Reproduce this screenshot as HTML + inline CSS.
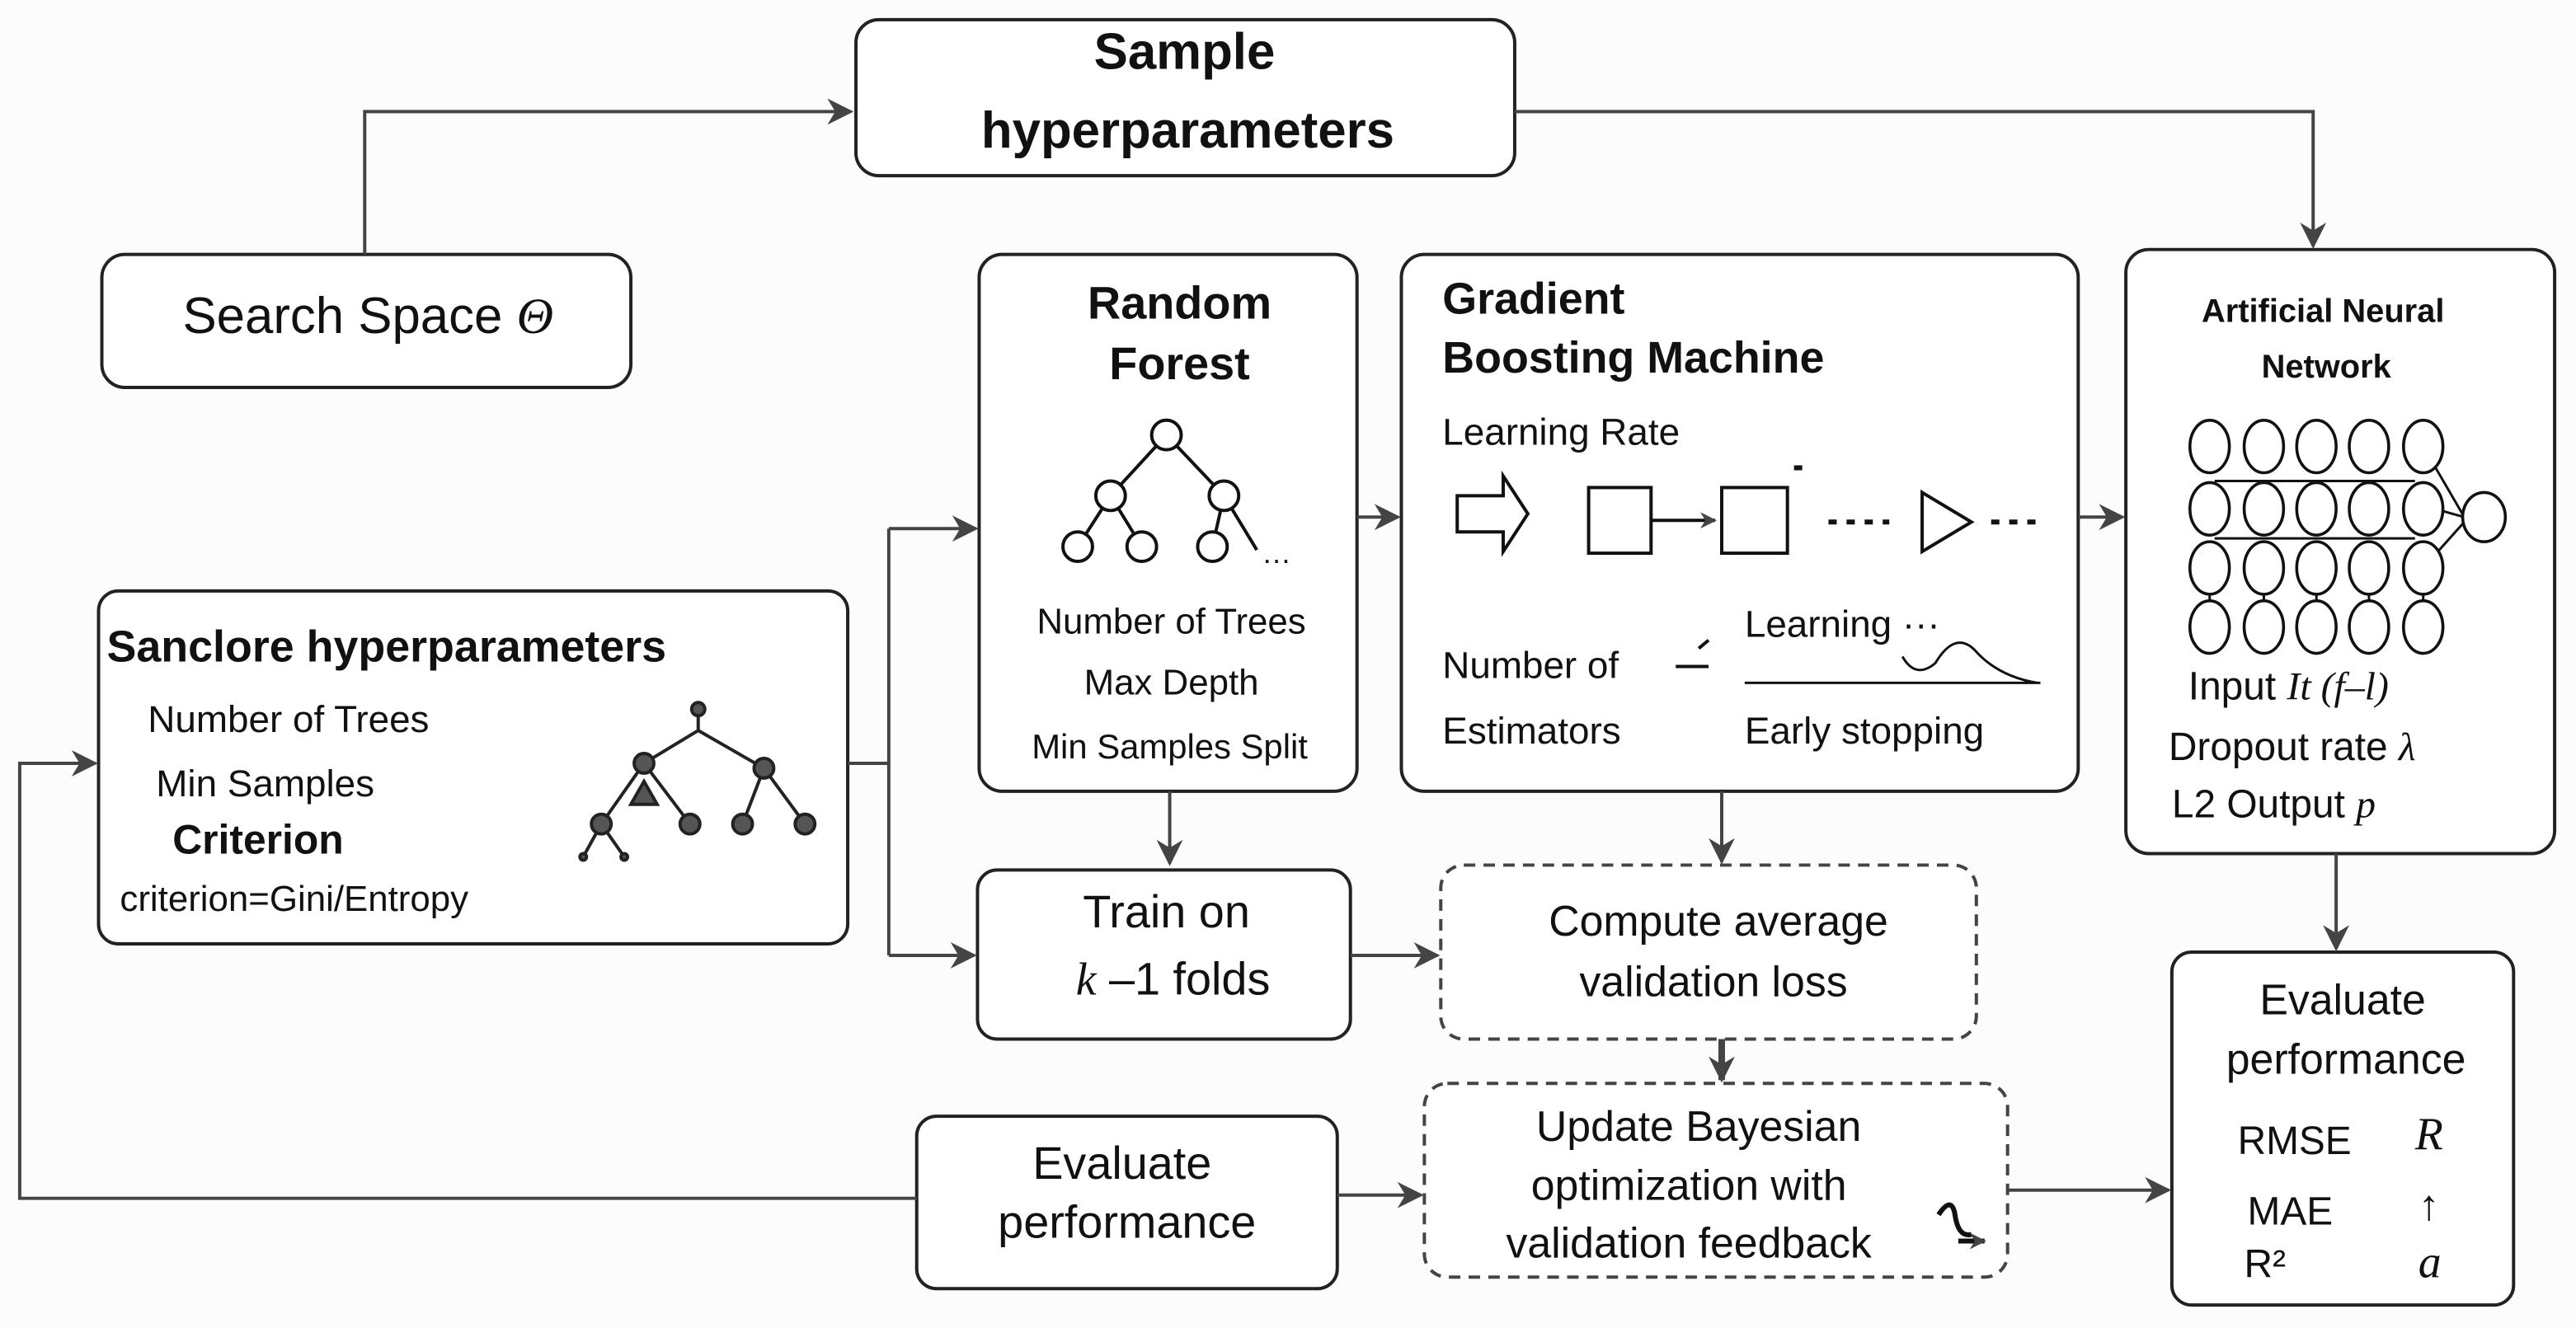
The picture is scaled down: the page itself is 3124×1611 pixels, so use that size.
<!DOCTYPE html>
<html><head><meta charset="utf-8"><style>
html,body{margin:0;padding:0;background:#fcfcfc;}
svg{display:block;}
text{font-family:"Liberation Sans",sans-serif;fill:#111;}
.b{font-weight:bold;}
.i{font-family:"Liberation Serif",serif;font-style:italic;}
</style></head><body>
<svg width="3124" height="1611" viewBox="0 0 1568 809" preserveAspectRatio="none" xmlns="http://www.w3.org/2000/svg">
<defs>
<marker id="a" viewBox="0 0 10 10" refX="9" refY="5" markerWidth="10" markerHeight="10" orient="auto" markerUnits="userSpaceOnUse"><path d="M0,0 L10,5 L0,10 L3,5 z" fill="#444"/></marker>
<marker id="A" viewBox="0 0 10 10" refX="9" refY="5" markerWidth="16" markerHeight="16" orient="auto" markerUnits="userSpaceOnUse"><path d="M0,0 L10,5 L0,10 L3,5 z" fill="#444"/></marker>
</defs>
<rect width="1568" height="809" fill="#fcfcfc"/>
<g fill="#fff" stroke="#222" stroke-width="2">
<rect x="521" y="12" width="401" height="95" rx="14"/>
<rect x="62" y="155" width="322" height="81" rx="14"/>
<rect x="596" y="155" width="230" height="327" rx="14"/>
<rect x="853" y="155" width="412" height="327" rx="14"/>
<rect x="1294" y="152" width="261" height="368" rx="14"/>
<rect x="60" y="360" width="456" height="215" rx="12"/>
<rect x="595" y="530" width="227" height="103" rx="12"/>
<rect x="558" y="680" width="256" height="105" rx="12"/>
<rect x="1322" y="580" width="208" height="215" rx="12"/>
<rect x="877" y="527" width="326" height="106" rx="14" stroke-dasharray="7,5" stroke="#444"/>
<rect x="867" y="660" width="355" height="118" rx="14" stroke-dasharray="7,5" stroke="#444"/>
</g>
<g fill="none" stroke="#444" stroke-width="2">
<path d="M222,155 V68 H518" marker-end="url(#A)"/>
<path d="M922,68 H1408 V150" marker-end="url(#A)"/>
<path d="M516,465 H541 M541,322 V582"/>
<path d="M541,322 H594" marker-end="url(#A)"/>
<path d="M541,582 H593" marker-end="url(#A)"/>
<path d="M826,315 H851" marker-end="url(#A)"/>
<path d="M1265,315 H1292" marker-end="url(#A)"/>
<path d="M712,482 V526" marker-end="url(#A)"/>
<path d="M1048,482 V525" marker-end="url(#A)"/>
<path d="M822,582 H875" marker-end="url(#A)"/>
<path d="M1048,633 V658" stroke-width="4" marker-end="url(#A)"/>
<path d="M1222,725 H1320" marker-end="url(#A)"/>
<path d="M814,728 H865" marker-end="url(#A)"/>
<path d="M558,730 H12 V465 H58" marker-end="url(#A)"/>
<path d="M1422,520 V578" marker-end="url(#A)"/>
</g>
<text x="721" y="42" font-size="31" class="b" text-anchor="middle">Sample</text>
<text x="723" y="90" font-size="31" class="b" text-anchor="middle">hyperparameters</text>
<text x="224" y="203" font-size="31" text-anchor="middle">Search Space <tspan class="i">Θ</tspan></text>
<text x="718" y="194" font-size="28" class="b" text-anchor="middle">Random</text>
<text x="718" y="231" font-size="28" class="b" text-anchor="middle">Forest</text>
<g fill="#fff" stroke="#111" stroke-width="2">
<path d="M710,265 L676,302 M710,265 L745,302 M676,302 L656,333 M676,302 L695,333 M745,302 L738,333 M745,302 L765,335"/>
<circle cx="710" cy="265" r="9"/><circle cx="676" cy="302" r="9"/><circle cx="745" cy="302" r="9"/>
<circle cx="656" cy="333" r="9"/><circle cx="695" cy="333" r="9"/><circle cx="738" cy="333" r="9"/>
</g>
<text x="768" y="343" font-size="18">…</text>
<text x="713" y="386" font-size="22" text-anchor="middle">Number of Trees</text>
<text x="713" y="423" font-size="22" text-anchor="middle">Max Depth</text>
<text x="712" y="462" font-size="21" text-anchor="middle">Min Samples Split</text>
<text x="878" y="191" font-size="27" class="b">Gradient</text>
<text x="878" y="227" font-size="27" class="b">Boosting Machine</text>
<text x="878" y="271" font-size="23">Learning Rate</text>
<g fill="#fff" stroke="#111" stroke-width="2">
<path d="M887,302 H915 V290 L930,313 L915,336 V324 H887 z"/>
<rect x="967" y="297" width="38" height="40"/>
<rect x="1048" y="297" width="40" height="40"/>
<path d="M1170,300 L1200,318 L1170,336 z"/>
</g>
<path d="M1005,317 H1044" stroke="#111" stroke-width="2" marker-end="url(#a)"/>
<path d="M1113,318 H1150 M1212,318 H1240 M1092,285 H1100" stroke="#111" stroke-width="3" stroke-dasharray="5,6"/>
<text x="878" y="413" font-size="23">Number of</text>
<path d="M1020,406 H1040 M1040,390 l-6,5" stroke="#111" stroke-width="2"/>
<text x="1062" y="388" font-size="23">Learning ···</text>
<path d="M1062,416 H1242 M1158,400 q8,14 20,4 q12,-20 24,-8 q14,16 38,20" stroke="#111" stroke-width="1.5" fill="none"/>
<text x="878" y="453" font-size="23">Estimators</text>
<text x="1062" y="453" font-size="23">Early stopping</text>
<text x="1414" y="196" font-size="20" class="b" text-anchor="middle">Artificial Neural</text>
<text x="1416" y="230" font-size="20" class="b" text-anchor="middle">Network</text>
<g fill="none" stroke="#111" stroke-width="1.5">
<path d="M1348,293 H1470 M1348,328 H1470 M1475,272 L1500,315 M1475,308 L1500,315 M1475,346 L1500,318 M1345,355 V370 M1378,355 V370 M1410,355 V370 M1442,355 V370 M1475,355 V370"/>
</g>
<g fill="#fff" stroke="#111" stroke-width="1.8">
<ellipse cx="1345" cy="272" rx="12" ry="16"/><ellipse cx="1378" cy="272" rx="12" ry="16"/><ellipse cx="1410" cy="272" rx="12" ry="16"/><ellipse cx="1442" cy="272" rx="12" ry="16"/><ellipse cx="1475" cy="272" rx="12" ry="16"/>
<ellipse cx="1345" cy="310" rx="12" ry="16"/><ellipse cx="1378" cy="310" rx="12" ry="16"/><ellipse cx="1410" cy="310" rx="12" ry="16"/><ellipse cx="1442" cy="310" rx="12" ry="16"/><ellipse cx="1475" cy="310" rx="12" ry="16"/>
<ellipse cx="1345" cy="346" rx="12" ry="16"/><ellipse cx="1378" cy="346" rx="12" ry="16"/><ellipse cx="1410" cy="346" rx="12" ry="16"/><ellipse cx="1442" cy="346" rx="12" ry="16"/><ellipse cx="1475" cy="346" rx="12" ry="16"/>
<ellipse cx="1345" cy="382" rx="12" ry="16"/><ellipse cx="1378" cy="382" rx="12" ry="16"/><ellipse cx="1410" cy="382" rx="12" ry="16"/><ellipse cx="1442" cy="382" rx="12" ry="16"/><ellipse cx="1475" cy="382" rx="12" ry="16"/>
<ellipse cx="1512" cy="315" rx="13" ry="15"/>
</g>
<text x="1332" y="426" font-size="24">Input <tspan class="i">It (f–l)</tspan></text>
<text x="1320" y="463" font-size="24">Dropout rate <tspan class="i">λ</tspan></text>
<text x="1322" y="498" font-size="24">L2 Output <tspan class="i">p</tspan></text>
<text x="65" y="403" font-size="27" class="b">Sanclore hyperparameters</text>
<text x="90" y="446" font-size="23">Number of Trees</text>
<text x="95" y="485" font-size="23">Min Samples</text>
<text x="105" y="520" font-size="25" class="b">Criterion</text>
<text x="73" y="555" font-size="22">criterion=Gini/Entropy</text>
<g stroke="#222" stroke-width="2" fill="#555">
<path d="M425,432 V445 L392,465 L366,502 M392,465 L420,502 M425,445 L465,468 L452,502 M465,468 L490,502 M366,502 L355,522 M366,502 L380,522" fill="none"/>
<circle cx="425" cy="432" r="4"/><circle cx="392" cy="465" r="6"/><circle cx="465" cy="468" r="6"/>
<path d="M392,476 L384,490 H400 z"/>
<circle cx="366" cy="502" r="6"/><circle cx="420" cy="502" r="6"/><circle cx="452" cy="502" r="6"/><circle cx="490" cy="502" r="6"/>
<circle cx="355" cy="522" r="2"/><circle cx="380" cy="522" r="2"/>
</g>
<text x="710" y="565" font-size="28" text-anchor="middle">Train on</text>
<text x="714" y="606" font-size="28" text-anchor="middle"><tspan class="i">k</tspan> –1 folds</text>
<text x="1046" y="570" font-size="26" text-anchor="middle">Compute average</text>
<text x="1043" y="607" font-size="26" text-anchor="middle">validation loss</text>
<text x="1034" y="695" font-size="26" text-anchor="middle">Update Bayesian</text>
<text x="1028" y="731" font-size="26" text-anchor="middle">optimization with</text>
<text x="1028" y="766" font-size="26" text-anchor="middle">validation feedback</text>
<path d="M1180,740 q8,-12 10,0 q2,14 10,12 M1192,756 H1208" stroke="#111" stroke-width="3" fill="none" marker-end="url(#a)"/>
<text x="683" y="718" font-size="28" text-anchor="middle">Evaluate</text>
<text x="686" y="754" font-size="28" text-anchor="middle">performance</text>
<text x="1426" y="618" font-size="26" text-anchor="middle">Evaluate</text>
<text x="1428" y="654" font-size="26" text-anchor="middle">performance</text>
<text x="1362" y="703" font-size="24">RMSE</text><text x="1470" y="700" font-size="28" class="i">R</text>
<text x="1368" y="746" font-size="24">MAE</text><text x="1472" y="743" font-size="26">↑</text>
<text x="1366" y="778" font-size="24">R²</text><text x="1472" y="778" font-size="28" class="i">a</text>
</svg>
</body></html>
